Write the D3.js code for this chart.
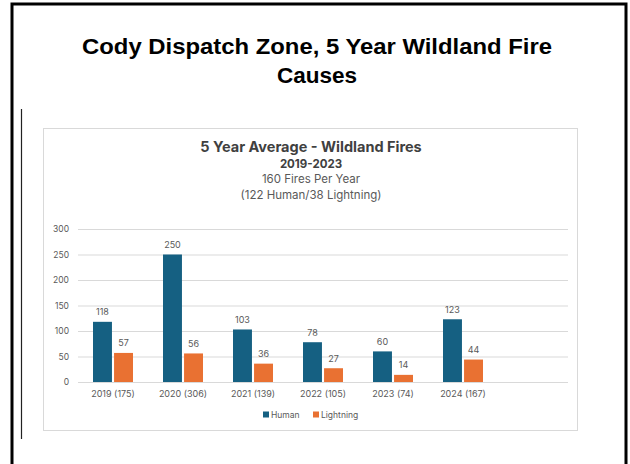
<!DOCTYPE html>
<html>
<head>
<meta charset="utf-8">
<script src="https://cdn.jsdelivr.net/npm/d3@7"></script>
<style>
    body { margin: 0; background: #fff; }
    svg { display: block; }
</style>
</head>
<body>
<div id="chart"></div>
<script>
// --- Chart data ---
const categories = ['2019 (175)', '2020 (306)', '2021 (139)', '2022 (105)', '2023 (74)', '2024 (167)', ''];
const human = [118, 250, 103, 78, 60, 123];
const lightning = [57, 56, 36, 27, 14, 44];
const seriesNames = ['Human', 'Lightning'];
const yTicks = [0, 50, 100, 150, 200, 250, 300];

const width = 630, height = 464;
const colors = { Human: '#156082', Lightning: '#E97132' };
const gray = '#595959';

const svg = d3.select('#chart').append('svg')
    .attr('width', width)
    .attr('height', height);

// slide frame
svg.append('path')
    .attr('d', `M12,${height + 2}V4H626V${height + 2}`)
    .attr('fill', 'none')
    .attr('stroke', '#000')
    .attr('stroke-width', 3);

svg.append('line')
    .attr('x1', 21.5).attr('x2', 21.5)
    .attr('y1', 109).attr('y2', 439)
    .attr('stroke', '#222').attr('stroke-width', 1.2);

// slide title
const title = svg.append('text')
    .attr('text-anchor', 'middle')
    .attr('font-family', 'Liberation Sans, Arial, sans-serif')
    .attr('font-weight', 'bold')
    .attr('font-size', 22.5)
    .attr('fill', '#000');
title.append('tspan').attr('x', 317).attr('y', 54)
    .attr('textLength', 470).attr('lengthAdjust', 'spacingAndGlyphs')
    .text('Cody Dispatch Zone, 5 Year Wildland Fire');
title.append('tspan').attr('x', 317).attr('y', 83).text('Causes');

// chart picture box
svg.append('rect')
    .attr('x', 43.5).attr('y', 128.5)
    .attr('width', 534).attr('height', 302)
    .attr('fill', '#fff')
    .attr('stroke', '#d9d9d9');

const font = 'Inter, Roboto, sans-serif';
const heads = [
    { t: '5 Year Average - Wildland Fires', y: 152, size: 14.5, w: 'bold', c: '#404040' },
    { t: '2019-2023', y: 167.5, size: 11.5, w: 'bold', c: '#404040' },
    { t: '160 Fires Per Year', y: 183, size: 11.5, w: 'normal', c: gray },
    { t: '(122 Human/38 Lightning)', y: 198.5, size: 11.5, w: 'normal', c: gray }
];
svg.selectAll('.head').data(heads).join('text')
    .attr('class', 'head')
    .attr('x', 311).attr('y', d => d.y)
    .attr('text-anchor', 'middle')
    .attr('font-family', font)
    .attr('font-size', d => d.size)
    .attr('font-weight', d => d.w)
    .attr('fill', d => d.c)
    .text(d => d.t);

// scales
const x = d3.scaleBand().domain(categories).range([78, 568]);
const xSub = d3.scaleBand().domain(seriesNames).range([0, 40]).paddingInner(0.1);
const y = d3.scaleLinear().domain([0, 300]).range([382, 229]);

const g = svg.append('g');

// grid + y labels
g.append('g')
    .attr('transform', 'translate(78,0)')
    .call(d3.axisLeft(y).tickValues(yTicks).tickSize(-490).tickPadding(9))
    .call(a => a.select('.domain').remove())
    .call(a => a.selectAll('line').attr('stroke', '#d9d9d9'))
    .call(a => a.selectAll('text').attr('fill', gray).attr('font-family', font).attr('font-size', 8.5));

// x labels
g.append('g')
    .attr('transform', `translate(0,${y(0)})`)
    .call(d3.axisBottom(x).tickSize(0).tickPadding(9))
    .call(a => a.select('.domain').remove())
    .call(a => a.selectAll('text').attr('fill', gray).attr('font-family', font).attr('font-size', 9));

const rows = categories.slice(0, human.length).map((c, i) => ({ cat: c, Human: human[i], Lightning: lightning[i] }));

const groups = g.selectAll('.grp').data(rows).join('g')
    .attr('class', 'grp')
    .attr('transform', d => `translate(${x(d.cat) + x.bandwidth() / 2 - 20},0)`);

groups.selectAll('rect').data(d => seriesNames.map(s => ({ s, v: d[s] }))).join('rect')
    .attr('x', d => xSub(d.s))
    .attr('width', xSub.bandwidth())
    .attr('y', d => y(d.v))
    .attr('height', d => y(0) - y(d.v))
    .attr('fill', d => colors[d.s]);

groups.selectAll('.lbl').data(d => seriesNames.map(s => ({ s, v: d[s] }))).join('text')
    .attr('class', 'lbl')
    .attr('x', d => xSub(d.s) + xSub.bandwidth() / 2)
    .attr('y', d => y(d.v) - 6.5)
    .attr('text-anchor', 'middle')
    .attr('font-family', font)
    .attr('font-size', 9)
    .attr('fill', gray)
    .text(d => d.v);

// legend
const legend = svg.append('g').attr('transform', 'translate(263,415)');
const legendX = [0, 50];
seriesNames.forEach((s, i) => {
    const it = legend.append('g').attr('transform', `translate(${legendX[i]},0)`);
    it.append('rect').attr('x', 0).attr('y', -3.5).attr('width', 6).attr('height', 6).attr('fill', colors[s]);
    it.append('text').attr('x', 8).attr('y', 3)
        .attr('font-family', font).attr('font-size', 8.5).attr('fill', gray)
        .text(s);
});
</script>
</body>
</html>
